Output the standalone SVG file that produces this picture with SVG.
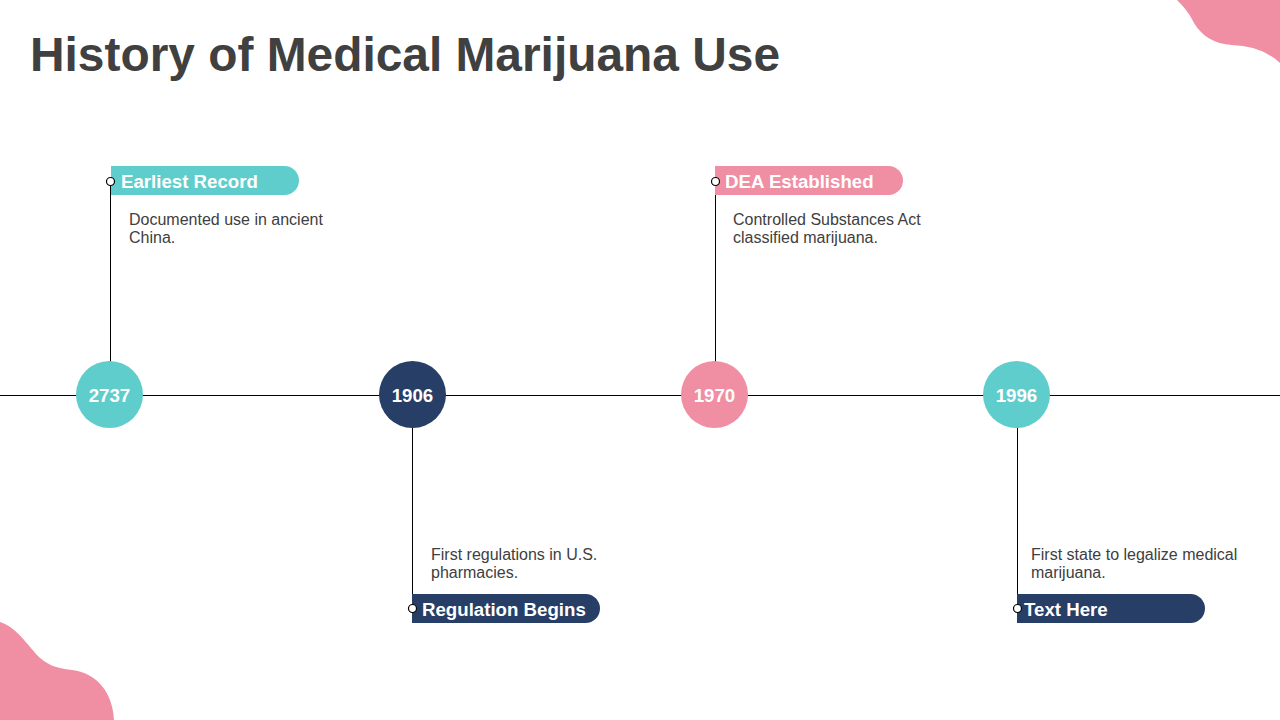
<svg xmlns="http://www.w3.org/2000/svg" width="1280" height="720" viewBox="0 0 1280 720">
<style>
text{font-family:"Liberation Sans",Arial,sans-serif}
.line{stroke:#000;stroke-width:1;fill:none}
.dot{fill:#fff;stroke:#000;stroke-width:1.2}
.yr{font-size:18.67px;font-weight:bold;fill:#fff;text-anchor:middle}
.hd{font-size:18.67px;font-weight:bold;fill:#fff}
.bd{font-size:16px;fill:#404040}
.teal{fill:#5fcdcb}.navy{fill:#273e67}.pink{fill:#f08ea3}
</style>
<rect width="1280" height="720" fill="#fff"/>
<g id="blobs">
<path class="pink" d="M1177 0C1186 9 1190 15 1194 23C1202 36 1214 44 1232 45C1250 46 1266 50 1280 63V0Z"/>
<path class="pink" d="M0 622C14 626 24 640 36 654C46 665 56 668 72 670C98 673 113 694 114 720H0Z"/>
</g>
<text id="title" x="30" y="71" font-size="47.870" font-weight="bold" fill="#404040">History of Medical Marijuana Use</text>
<g id="connectors">
<line class="line" x1="0" y1="395.500" x2="1280" y2="395.500"/>
<line class="line" x1="110.500" y1="181" x2="110.500" y2="395"/>
<line class="line" x1="412.500" y1="395" x2="412.500" y2="609"/>
<line class="line" x1="715.500" y1="181" x2="715.500" y2="395"/>
<line class="line" x1="1017.500" y1="395" x2="1017.500" y2="609"/>
</g>
<g id="node-2737">
<circle class="teal" cx="109.500" cy="394.500" r="33.500"/>
<text class="yr" x="109.500" y="402">2737</text>
<path class="teal" d="M111 166H284.500A14.500 14.500 0 0 1 284.500 195H111Z"/>
<circle class="dot" cx="110.500" cy="181.500" r="4"/>
<text class="hd" x="121" y="188">Earliest Record</text>
<text class="bd" x="129" y="225">Documented use in ancient</text>
<text class="bd" x="129" y="243">China.</text>
</g>
<g id="node-1906">
<circle class="navy" cx="412.500" cy="394.500" r="33.500"/>
<text class="yr" x="412.500" y="402">1906</text>
<path class="navy" d="M412 594H585.500A14.500 14.500 0 0 1 585.500 623H412Z"/>
<circle class="dot" cx="412.500" cy="608.500" r="4"/>
<text class="hd" x="422" y="616">Regulation Begins</text>
<text class="bd" x="431" y="560">First regulations in U.S.</text>
<text class="bd" x="431" y="578">pharmacies.</text>
</g>
<g id="node-1970">
<circle class="pink" cx="714.500" cy="394.500" r="33.500"/>
<text class="yr" x="714.500" y="402">1970</text>
<path class="pink" d="M715 166H888.500A14.500 14.500 0 0 1 888.500 195H715Z"/>
<circle class="dot" cx="715.500" cy="181.500" r="4"/>
<text class="hd" x="725" y="188">DEA Established</text>
<text class="bd" x="733" y="225">Controlled Substances Act</text>
<text class="bd" x="733" y="243">classified marijuana.</text>
</g>
<g id="node-1996">
<circle class="teal" cx="1016.500" cy="394.500" r="33.500"/>
<text class="yr" x="1016.500" y="402">1996</text>
<path class="navy" d="M1017 594H1190.500A14.500 14.500 0 0 1 1190.500 623H1017Z"/>
<circle class="dot" cx="1017.500" cy="608.500" r="4"/>
<text class="hd" x="1024" y="616">Text Here</text>
<text class="bd" x="1031" y="560">First state to legalize medical</text>
<text class="bd" x="1031" y="578">marijuana.</text>
</g>
</svg>
